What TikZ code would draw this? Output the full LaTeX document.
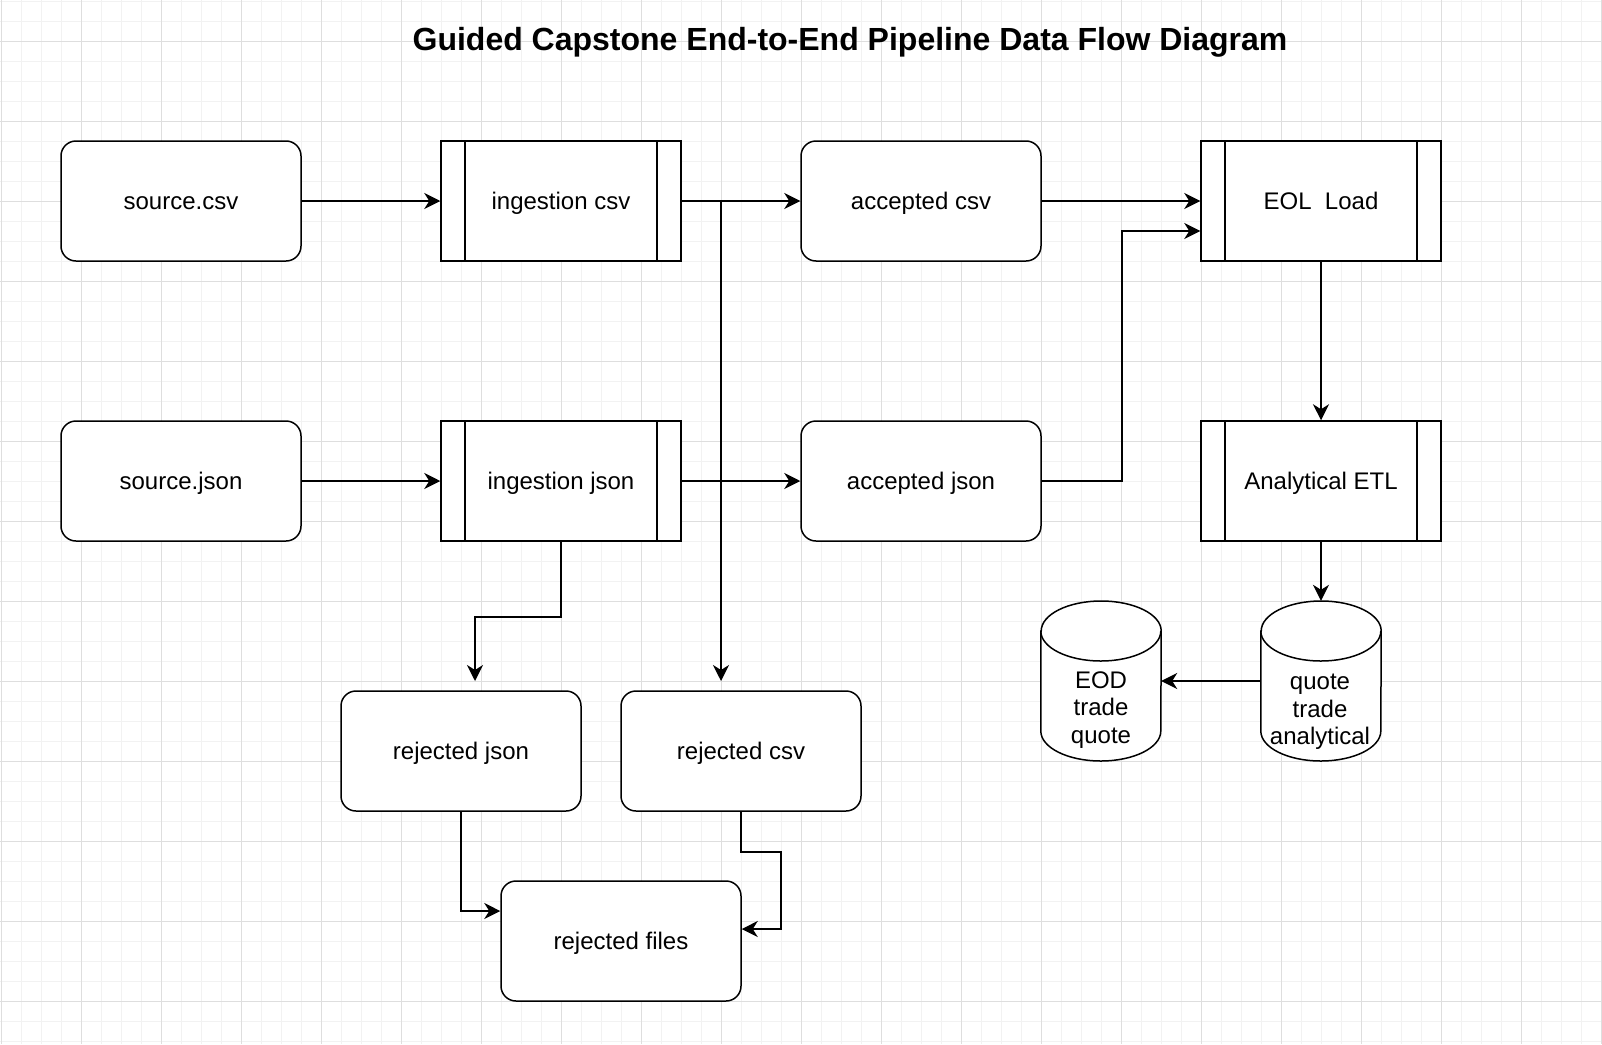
\documentclass[tikz,border=0pt]{standalone}
\usepackage{fontspec}
\setmainfont{Liberation Sans}
\usetikzlibrary{arrows.meta}
\begin{document}
\begin{tikzpicture}[x=1pt,y=-1pt,
  lw/.style={line width=1.5pt},
  base/.style={lw, font=\fontsize{24}{27.6}\selectfont, text height=16pt, text depth=0pt,
    minimum width=240pt, minimum height=120pt, inner sep=0pt, fill=white, draw=black},
  roundbox/.style={base, rounded corners=15pt},
  procbox/.style={base, path picture={
    \draw[lw] ([xshift=24pt]path picture bounding box.north west) -- ([xshift=24pt]path picture bounding box.south west);
    \draw[lw] ([xshift=-24pt]path picture bounding box.north east) -- ([xshift=-24pt]path picture bounding box.south east);}},
  cylnode/.style={minimum width=120pt, minimum height=160pt, inner sep=0pt},
  cylpath/.style={lw, draw=black, fill=white},
  cyltext/.style={font=\fontsize{24}{27.6}\selectfont, align=center, inner sep=0pt},
  arr/.style={lw, -{Stealth[length=16pt,width=16pt,inset=5pt]}},
  minorgrid/.style={draw=black!5, line width=1pt},
  majorgrid/.style={draw=black!13, line width=1pt}
]
\useasboundingbox (0,0) rectangle (1602,1044);
\fill[white] (0,0) rectangle (1602,1044);
% grid
\foreach \gx in {1,21,...,1601} {\draw[minorgrid] (\gx,0) -- (\gx,1044);}
\foreach \gy in {1,21,...,1041} {\draw[minorgrid] (0,\gy) -- (1602,\gy);}
\foreach \gx in {1,81,...,1601} {\draw[majorgrid] (\gx,0) -- (\gx,1044);}
\foreach \gy in {41,121,...,1001} {\draw[majorgrid] (0,\gy) -- (1602,\gy);}

% title
\node[font=\fontsize{32}{36}\selectfont\bfseries, anchor=base, inner sep=0pt] (title) at (850,50)
  {Guided Capstone End-to-End Pipeline Data Flow Diagram};

% row 1
\node[roundbox] (srccsv) at (181,201) {source.csv};
\node[procbox]  (ingcsv) at (561,201) {ingestion csv};
\node[roundbox] (acccsv) at (921,201) {accepted csv};
\node[procbox]  (eol)    at (1321,201) {EOL\ \ Load};
% row 2
\node[roundbox] (srcjson) at (181,481) {source.json};
\node[procbox]  (ingjson) at (561,481) {ingestion json};
\node[roundbox] (accjson) at (921,481) {accepted json};
\node[procbox]  (etl)     at (1321,481) {Analytical ETL};
% rejected
\node[roundbox] (rejjson)  at (461,751) {rejected json};
\node[roundbox] (rejcsv)   at (741,751) {rejected csv};
\node[roundbox] (rejfiles) at (621,941) {rejected files};

% cylinders
\node[cylnode] (eod) at (1101,681) {};
\path[cylpath] (eod.west |- 0,631) -- (eod.west |- 0,731)
  arc[start angle=180, end angle=0, x radius=60, y radius=30] -- (eod.east |- 0,631)
  arc[start angle=0, end angle=-180, x radius=60, y radius=30] -- cycle;
\draw[lw] (eod.west |- 0,631) arc[start angle=180, end angle=0, x radius=60, y radius=30];
\node[cyltext] (eodtext) at (1101,710) {EOD\\trade\\quote};

\node[cylnode] (qta) at (1321,681) {};
\path[cylpath] (qta.west |- 0,631) -- (qta.west |- 0,731)
  arc[start angle=180, end angle=0, x radius=60, y radius=30] -- (qta.east |- 0,631)
  arc[start angle=0, end angle=-180, x radius=60, y radius=30] -- cycle;
\draw[lw] (qta.west |- 0,631) arc[start angle=180, end angle=0, x radius=60, y radius=30];
\node[cyltext] (qtatext) at (1320,712) {quote\\trade\\analytical};

% free ends
\coordinate (rejcsvtip)  at (721,681);
\coordinate (rejjsontip) at (475,681);

% connectors
\draw[arr] (srccsv.east) -- (ingcsv.west);
\draw[arr] (srcjson.east) -- (ingjson.west);
\draw[arr] (ingcsv.east) -- (acccsv.west);
\draw[arr] (ingcsv.east) -| (rejcsvtip);
\draw[arr] (ingjson.east) -- (accjson.west);
\draw[arr] (ingjson.south) -- ++(0,75) -| (rejjsontip);
\draw[arr] (acccsv.east) -- (eol.west);
\draw[arr] (accjson.east) -- ++(80,0) |- ([yshift=-30pt]eol.west);
\draw[arr] (eol.south) -- (etl.north);
\draw[arr] (etl.south) -- (qta.north);
\draw[arr] (qta.west) -- (eod.east);
\draw[arr] (rejjson.south) |- ([yshift=30pt]rejfiles.west);
\draw[arr] (rejcsv.south) -- ++(0,40) -- ++(40,0) |- ([yshift=12pt]rejfiles.east);
\end{tikzpicture}
\end{document}
